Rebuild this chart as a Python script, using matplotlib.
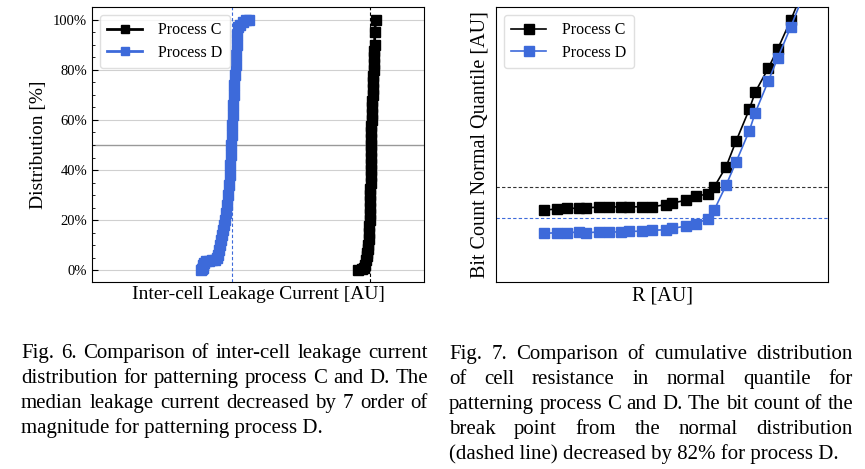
import matplotlib
matplotlib.use('Agg')
import matplotlib.pyplot as plt
from matplotlib.ticker import MultipleLocator, PercentFormatter

plt.rcParams['font.family'] = ['Liberation Serif', 'DejaVu Serif']

# Fig. 6 data (arbitrary current units, cumulative %)
leak_c = [80.1, 81.3, 81.9, 82.2, 82.5, 82.7, 82.8, 83.0, 83.1, 83.3, 83.4, 83.5, 83.6, 83.65,
          83.7, 83.75, 83.8, 83.85, 83.9, 83.9, 83.9, 83.9, 83.9, 83.95, 84.0, 84.05, 84.1,
          84.15, 84.2, 84.25, 84.3, 84.4, 84.5, 84.55, 84.6, 84.7, 84.8, 84.85, 84.9, 85.0,
          85.1, 85.2, 85.4]
dist_c = [0, 0.5, 1, 2, 4, 5.5, 7, 8.5, 10, 12.5, 15, 17.5, 20, 22.5,
          25, 27.5, 30, 32.5, 35, 37.5, 40, 42.5, 45, 47.5, 50, 52.5, 55,
          57.5, 60, 62.5, 65, 67.5, 70, 72.5, 75, 77.5, 80, 82.5, 85, 87.5,
          90, 95, 100]
leak_d = [32.8, 33.1, 33.4, 33.4, 33.7, 34.3, 35.2, 36.1, 37.0, 37.7, 38.0, 38.3, 38.6, 38.9,
          39.2, 39.5, 39.8, 40.1, 40.4, 40.7, 41.0, 41.3, 41.6, 41.7, 41.9, 42.0, 42.2, 42.3,
          42.5, 42.6, 42.8, 42.9, 43.1, 43.4, 43.5, 43.7, 43.8, 44.0, 44.6, 45.5, 46.4, 47.3]
dist_d = [0, 0.5, 1, 2, 3, 3.5, 3.5, 4, 4, 5, 6, 8, 10, 12,
          14, 16, 18, 20, 23, 26, 30, 34, 38, 42, 46, 50, 54, 58,
          62, 66, 70, 74, 78, 82, 86, 90, 94, 97, 98, 99, 100, 100]
median_c = 83.7
median_d = 42.2

# Fig. 7 data (arbitrary units)
r_vals = [14.5, 18.3, 21.3, 25.1, 27.0, 31.0, 34.0, 37.7, 40.1, 44.1, 47.1, 51.1, 53.1,
          57.1, 60.2, 63.8, 65.7, 69.3, 72.3, 76.3, 78.1, 82.0, 84.8, 88.8, 92.5]
q_c = [26.2, 26.5, 26.8, 26.8, 27.0, 27.2, 27.3, 27.3, 27.3, 27.4, 27.4, 28.1, 28.7,
       29.7, 31.2, 32.0, 34.5, 41.9, 51.2, 62.8, 69.1, 77.7, 84.6, 95.3, 106]
q_d = [17.7, 17.9, 17.9, 18.2, 17.9, 18.2, 18.2, 18.2, 18.4, 18.5, 18.8, 19.0, 19.5,
       20.3, 21.2, 23.0, 26.1, 35.2, 43.6, 55.0, 61.6, 73.0, 81.3, 92.8, 104]
break_c = 34.5
break_d = 23.2

caption6 = ["Fig. 6. Comparison of inter-cell leakage current",
            "distribution for patterning process C and D. The",
            "median leakage current decreased by 7 order of",
            "magnitude for patterning process D."]
caption7 = ["Fig. 7. Comparison of cumulative distribution",
            "of cell resistance in normal quantile for",
            "patterning process C and D. The bit count of the",
            "break point from the normal distribution",
            "(dashed line) decreased by 82% for process D."]

blue = '#3d6ada'
W, H = 865, 469

fig = plt.figure(figsize=(8.65, 4.69), dpi=100)

# ---- Fig. 6 ----
ax1 = fig.add_axes([92 / W, 1 - 282 / H, 332 / W, 275 / H])
for v in range(0, 101, 20):
    ax1.axhline(v, color='#d0d0d0', lw=0.8, zorder=0)
ax1.axhline(50, color='#999999', lw=1.0, zorder=0)
ax1.axvline(median_d, color=blue, lw=0.8, ls=(0, (3, 2)), zorder=1)
ax1.axvline(median_c, color='black', lw=0.8, ls=(0, (3, 2)), zorder=1)
ax1.plot(leak_c, dist_c, '-s', color='black', ms=7.5, lw=2, label='Process C', zorder=3)
ax1.plot(leak_d, dist_d, '-s', color=blue, ms=7.5, lw=2, label='Process D', zorder=3)
ax1.set_xlim(0, 100)
ax1.set_ylim(-4.8, 105.2)
ax1.set_yticks(range(0, 101, 20))
ax1.yaxis.set_minor_locator(MultipleLocator(5))
ax1.yaxis.set_major_formatter(PercentFormatter(decimals=0))
ax1.set_xticks([])
ax1.tick_params(axis='y', which='both', direction='in', labelsize=10.5)
ax1.tick_params(axis='y', which='major', length=4)
ax1.tick_params(axis='y', which='minor', length=2)
ax1.set_xlabel('Inter-cell Leakage Current [AU]', fontsize=14, labelpad=3)
ax1.set_ylabel('Distribution [%]', fontsize=14, labelpad=4)
ax1.legend(loc='upper left', fontsize=11.5, frameon=True, edgecolor='#d8d8d8',
           handlelength=2.2, borderpad=0.45, labelspacing=0.4, handletextpad=1.0,
           markerscale=0.85, bbox_to_anchor=(0.0, 1.0), borderaxespad=0.5)

# ---- Fig. 7 ----
ax2 = fig.add_axes([496 / W, 1 - 282 / H, 332 / W, 275 / H])
ax2.axhline(break_c, color='#333333', lw=0.8, ls=(0, (3, 2)), zorder=1)
ax2.axhline(break_d, color=blue, lw=0.8, ls=(0, (3, 2)), zorder=1)
ax2.plot(r_vals, q_c, '-s', color='black', ms=6.5, lw=1.2, label='Process C', zorder=3)
ax2.plot(r_vals, q_d, '-s', color=blue, ms=6.5, lw=1.2, label='Process D', zorder=3)
ax2.set_xlim(0, 100)
ax2.set_ylim(0, 100)
ax2.set_xticks([])
ax2.set_yticks([])
ax2.set_xlabel('R [AU]', fontsize=14.5, labelpad=3)
ax2.set_ylabel('Bit Count Normal Quantile [AU]', fontsize=14.5, labelpad=5)
ax2.legend(loc='upper left', fontsize=11.5, frameon=True, edgecolor='#d8d8d8',
           handlelength=2.2, borderpad=0.45, labelspacing=0.4, handletextpad=1.0,
           bbox_to_anchor=(0.0, 1.0), borderaxespad=0.5)

# ---- captions (justified) ----
renderer = fig.canvas.get_renderer()


def draw_caption(lines, x0, x1, y0, dy, size=15):
    for i, line in enumerate(lines):
        yb = 1 - (y0 + i * dy) / H
        if i == len(lines) - 1:
            fig.text(x0 / W, yb, line, fontsize=size, va='baseline', ha='left')
            continue
        words = line.split(' ')
        texts = [fig.text(0, yb, w, fontsize=size, va='baseline', ha='left') for w in words]
        widths = [t.get_window_extent(renderer).width for t in texts]
        gap = (x1 - x0 - sum(widths)) / (len(words) - 1)
        x = x0
        for t, w in zip(texts, widths):
            t.set_x(x / W)
            x += w + gap


draw_caption(caption6, 21, 428, 358, 25)
draw_caption(caption7, 449, 853, 359, 25)

fig.savefig('out.png', dpi=100)
